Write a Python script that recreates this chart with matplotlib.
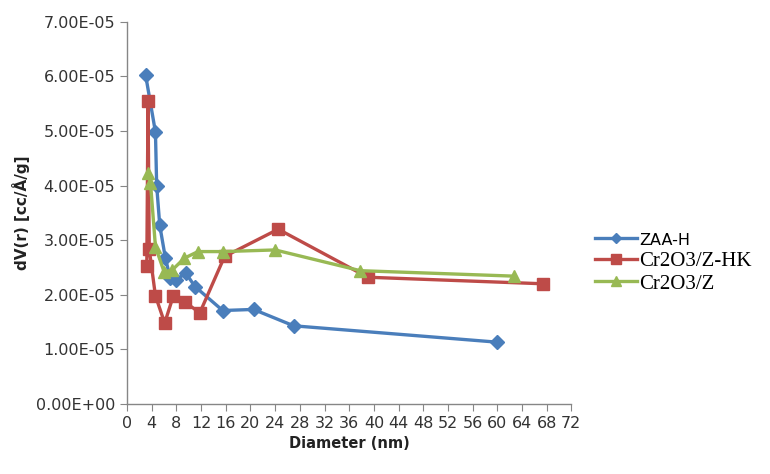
import matplotlib.pyplot as plt
from matplotlib.ticker import FormatStrFormatter, MultipleLocator

plt.rcParams['font.family'] = ['Liberation Sans Narrow', 'DejaVu Sans']

# ZAA-H
x_zaa = [3.0, 4.6, 4.8, 5.3, 6.2, 7.0, 8.0, 9.5, 11.0, 15.5, 20.5, 27.0, 60.0]
y_zaa = [6.03, 4.98, 4.0, 3.27, 2.68, 2.3, 2.27, 2.4, 2.15, 1.71, 1.73, 1.43, 1.13]
# Cr2O3/Z-HK
x_hk = [3.2, 3.4, 3.6, 4.6, 6.1, 7.5, 9.4, 11.8, 15.8, 24.5, 39.0, 67.4]
y_hk = [2.52, 5.55, 2.83, 1.98, 1.48, 1.98, 1.86, 1.67, 2.7, 3.2, 2.32, 2.2]
# Cr2O3/Z
x_z = [3.4, 3.8, 4.6, 6.0, 7.3, 9.3, 11.5, 15.6, 24.0, 37.8, 62.7]
y_z = [4.23, 4.05, 2.88, 2.42, 2.45, 2.67, 2.79, 2.79, 2.82, 2.44, 2.34]

scale = 1e-5
fig = plt.figure(figsize=(7.7, 4.74), dpi=100)
ax = fig.add_axes([0.165, 0.148, 0.577, 0.806])

ax.plot(x_zaa, [v * scale for v in y_zaa], color='#4A7EBB', lw=2.4, marker='D',
        ms=7, label='ZAA-H')
ax.plot(x_hk, [v * scale for v in y_hk], color='#BE4B48', lw=2.4, marker='s',
        ms=9, label='Cr2O3/Z-HK')
ax.plot(x_z, [v * scale for v in y_z], color='#98B954', lw=2.4, marker='^',
        ms=9, label='Cr2O3/Z')

ax.set_xlim(0, 72)
ax.set_ylim(0, 7e-5)
ax.xaxis.set_major_locator(MultipleLocator(4))
ax.yaxis.set_major_locator(MultipleLocator(1e-5))
ax.yaxis.set_major_formatter(FormatStrFormatter('%.2E'))

for s in ['top', 'right']:
    ax.spines[s].set_visible(False)
for s in ['left', 'bottom']:
    ax.spines[s].set_color('#868686')
    ax.spines[s].set_linewidth(1.0)
ax.tick_params(axis='both', colors='#868686', labelcolor='#333333',
               labelsize=11.5, direction='out', length=5)

ax.set_xlabel('Diameter (nm)', fontsize=10.5, fontweight='bold', color='#222222')
ax.set_ylabel('dV(r) [cc/Å/g]', fontsize=11, fontweight='bold', color='#222222')

leg = fig.legend(loc='center left', bbox_to_anchor=(0.749, 0.447), frameon=False,
                 fontsize=15, handlelength=2.0, labelspacing=0.15, handletextpad=0.1,
                 markerscale=0.8)
texts = leg.get_texts()
texts[0].set_fontfamily(['Liberation Sans Narrow', 'DejaVu Sans'])
texts[0].set_fontsize(11.5)
for t in texts[1:]:
    t.set_fontfamily(['Liberation Serif', 'DejaVu Serif'])

fig.savefig('out.png', dpi=100)
